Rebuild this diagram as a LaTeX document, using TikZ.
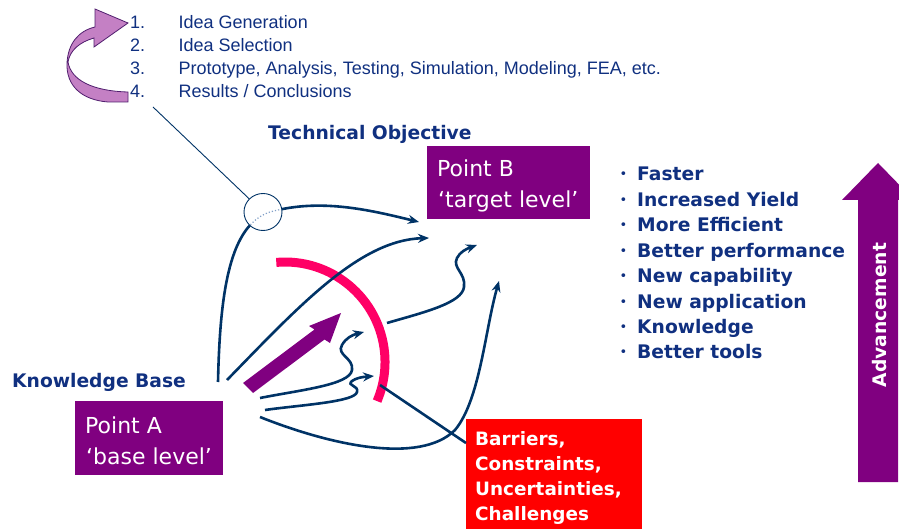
\documentclass[tikz,border=0pt]{standalone}
\usepackage{fontspec}
\setmainfont{Liberation Sans}
\newfontfamily\dvs{DejaVu Sans}
\usetikzlibrary{arrows.meta,shapes.geometric}
\definecolor{navyline}{RGB}{0,51,102}
\definecolor{navytxt}{RGB}{16,48,128}
\definecolor{ppl}{RGB}{128,0,128}
\definecolor{pinkarc}{RGB}{255,0,102}
\definecolor{redbox}{RGB}{255,0,0}
\definecolor{lilac}{RGB}{196,128,196}
\definecolor{lilacedge}{RGB}{80,30,110}
\definecolor{faintblue}{RGB}{130,160,200}
\begin{document}
\begin{tikzpicture}[x=1pt,y=-1pt,
 lbl/.style={inner sep=0pt, anchor=base west},
 listtxt/.style={lbl, font=\fontsize{18}{22}\selectfont, text=navytxt},
 boldtxt/.style={lbl, font=\dvs\bfseries\fontsize{18.7}{25}\selectfont, text=navytxt},
 whitebold/.style={lbl, font=\dvs\bfseries\fontsize{18.4}{25}\selectfont, text=white},
 pointtxt/.style={lbl, font=\dvs\fontsize{22}{30}\selectfont, text=white},
 bulletdot/.style={lbl, font=\dvs\fontsize{13}{14}\selectfont, text=navytxt},
 boxed/.style={draw=none, inner sep=0pt, anchor=north west},
 conn/.style={draw=navyline, line width=2.6pt, -{Stealth[length=11pt,width=9pt]}},
 plainconn/.style={draw=navyline, line width=2.6pt},
]
\useasboundingbox (0,0) rectangle (899,529);
\clip (0,0) rectangle (899,529);

% top numbered list
\foreach \n/\t [count=\i from 0] in {1./{Idea Generation},2./{Idea Selection},3./{Prototype, Analysis, Testing, Simulation, Modeling, FEA, etc.},4./{Results / Conclusions}}{
  \node[listtxt] (num\i) at (130,29+22.7*\i) {\n};
  \node[listtxt] (item\i) at (178.5,29+22.7*\i) {\t};
}

% curved cycle arrow
\draw[fill=lilac, draw=lilacedge, line width=0.8pt]
 (128,102) -- (108,102) .. controls (82,100) and (66,86) .. (67,63)
 .. controls (68,44) and (78,31) .. (95,27) -- (95,9) -- (128,23) -- (94,47) -- (94,38)
 .. controls (80,42) and (70,50) .. (68,62) .. controls (71,80) and (92,91) .. (128,92) -- cycle;

% headings
\node[boldtxt] (techobj) at (268,140) {Technical Objective};
\node[boldtxt] (knowbase) at (12,387) {Knowledge Base};

% Point B box
\node[boxed, fill=ppl, minimum width=163pt, minimum height=73pt] (B) at (427,146) {};
\node[pointtxt] (Bt1) at (437,177) {Point B};
\node[pointtxt] (Bt2) at (438,208) {‘target level’};

% Point A box
\node[boxed, fill=ppl, minimum width=148pt, minimum height=74pt] (A) at (75,401) {};
\node[pointtxt] (At1) at (85,433) {Point A};
\node[pointtxt] (At2) at (86,464) {‘base level’};

% red box
\node[boxed, fill=redbox, minimum width=176pt, minimum height=115pt] (R) at (466,419) {};
\node[whitebold] (r1) at (475,445) {Barriers,};
\node[whitebold] (r2) at (475,470) {Constraints,};
\node[whitebold] (r3) at (475,495) {Uncertainties,};
\node[whitebold] (r4) at (475,520) {Challenges};

% bullet list
\foreach \t [count=\i from 0] in {Faster,Increased Yield,More Efficient,Better performance,New capability,New application,Knowledge,Better tools}{
  \node[bulletdot] (bd\i) at (619.5,181-2+25.4*\i) {•};
  \node[boldtxt] (bl\i) at (637,181+25.4*\i) {\t};
}

% advancement arrow
\fill[ppl] (858,482) -- (858,200) -- (842,200) -- (878,163) -- (914,200) -- (898,200) -- (898,482) -- cycle;
\node[font=\dvs\bfseries\fontsize{18.7}{22}\selectfont, text=white, rotate=90, inner sep=0pt] (adv) at (880,315) {Advancement};

% pink barrier arc
\draw[pinkarc, line width=9pt] (276.3,262.4) arc[start angle=95, end angle=-23, radius=100pt];

% purple thick arrow
\fill[ppl] (243,383) -- (314.5,329.5) -- (309,326) -- (341,313) -- (330,343) -- (324.5,339.5) -- (253,393) -- cycle;

% coordinates for connectors
\coordinate (s1) at (218,382);
\coordinate (e1) at (419,222);
\coordinate (s2) at (227,380);
\coordinate (e2) at (429,238);
\coordinate (s3) at (387,323);
\coordinate (e3) at (477,245);
\coordinate (s4) at (260,417);
\coordinate (e4) at (499,281);
\coordinate (s5) at (260,398);
\coordinate (e5) at (364,332);
\coordinate (s6) at (265,410);
\coordinate (e6) at (374,376);
\coordinate (bar) at (380,385);
\coordinate (lensline) at (153,107);

\def\curveone{(s1) .. controls (220,290) and (230,225) .. (270,212) .. controls (320,198) and (370,210) .. (e1)}
\draw[conn] \curveone;
\draw[conn] (s2) .. controls (300,305) and (360,240) .. (e2);
\draw[conn] (s3) .. controls (425,312) and (462,303) .. (464,287) .. controls (466,273) and (452,268) .. (457,258) .. controls (460,252) and (466,249) .. (e3);
\draw[conn] (s4) .. controls (330,445) and (420,465) .. (455,430) .. controls (480,400) and (485,330) .. (e4);
\draw[conn] (s5) .. controls (300,390) and (350,385) .. (352,370) .. controls (354,358) and (336,355) .. (342,345) .. controls (346,338) and (352,335) .. (e5);
\draw[conn] (s6) .. controls (300,405) and (355,402) .. (357,392) .. controls (359,385) and (346,386) .. (352,381) .. controls (356,378) and (362,377) .. (e6);
\draw[plainconn] (bar) -- ([yshift=-24pt]R.north west);

% lens circle
\node[ellipse, draw=navyline, line width=0.9pt, fill=white, minimum width=38pt, minimum height=37pt, inner sep=0pt] (lens) at (263,212) {};
\draw[navyline, line width=0.9pt] (lensline) -- (lens);
\begin{scope}
  \clip (263,212) ellipse [x radius=18pt, y radius=17.5pt];
  \draw[faintblue, line width=1.2pt, dotted] \curveone;
\end{scope}
\end{tikzpicture}
\end{document}
